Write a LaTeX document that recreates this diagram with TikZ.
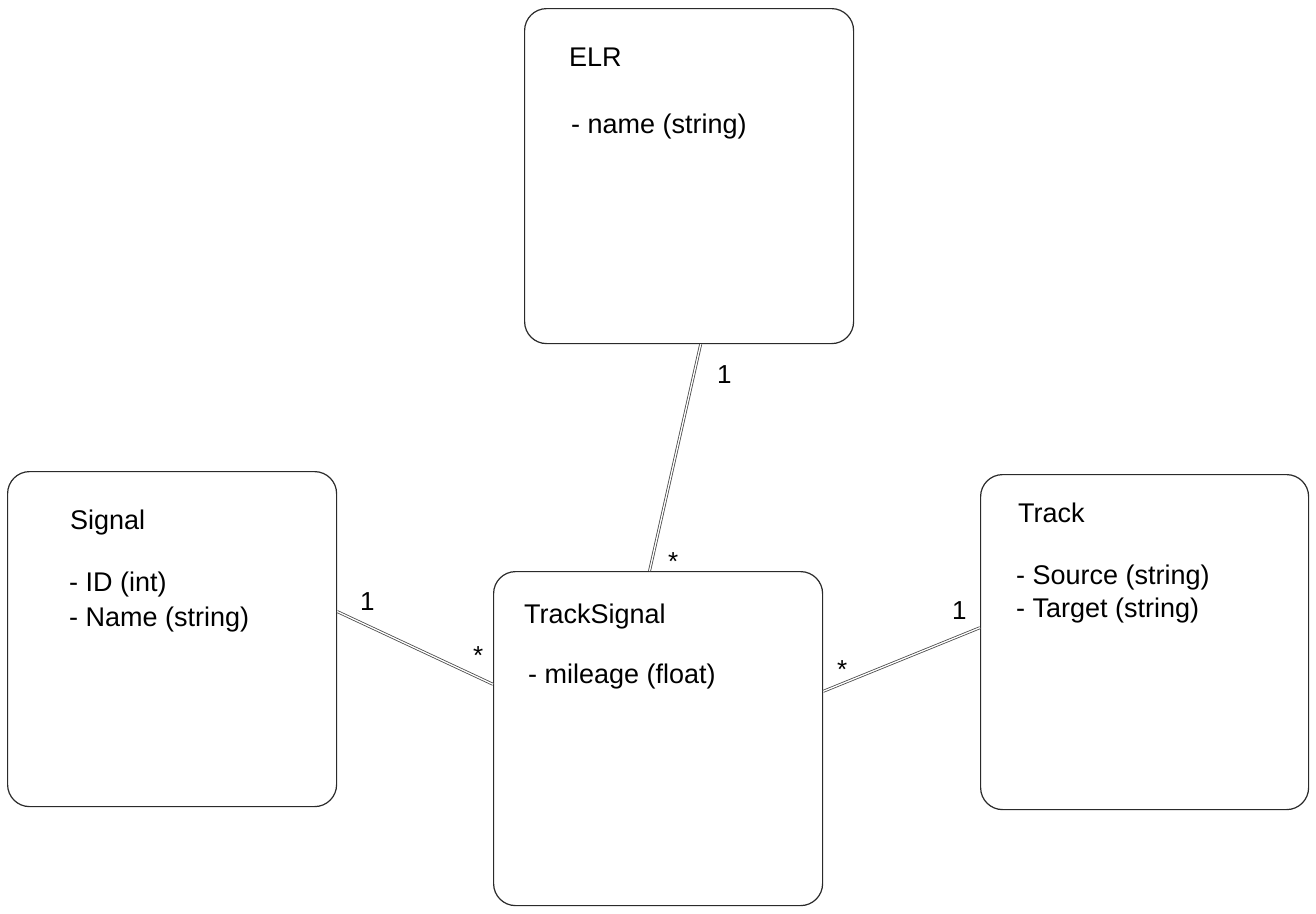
\documentclass[tikz,border=0pt]{standalone}
\usepackage{fontspec}
\setmainfont{Liberation Sans}
\usetikzlibrary{calc}
\definecolor{boxline}{HTML}{2A2A2A}
\definecolor{linkline}{HTML}{4A4A4A}
\tikzset{
  classbox/.style={draw=boxline, line width=1.2pt, rounded corners=22pt, rectangle,
    inner sep=0pt, anchor=north west, minimum width=#1},
  classbox/.default=329pt,
  txt/.style={anchor=base west, inner sep=0pt, font=\fontsize{27}{31}\selectfont, text=black},
  mult/.style={anchor=base west, inner sep=0pt, font=\fontsize{26}{30}\selectfont, text=black},
  link/.style={draw=linkline, line width=0.8pt, double=white, double distance=1.3pt}
}
\begin{document}
\begin{tikzpicture}[x=1pt,y=-1pt]
\useasboundingbox[fill=white] (0,0) rectangle (1316,913);

% class boxes
\node[classbox=329pt, minimum height=335pt] (elr) at (524,8) {};
\node[classbox=329pt, minimum height=335pt] (signal) at (7,471) {};
\node[classbox=329pt, minimum height=334pt] (ts) at (493,571) {};
\node[classbox=328pt, minimum height=335pt] (track) at (980,474) {};

% texts
\node[txt] (elrT) at (569,66) {ELR};
\node[txt] (elrA) at (571,133) {- name (string)};

\node[txt] (sigT) at (70,529) {Signal};
\node[txt] (sigA) at (69,591) {- ID (int)};
\node[txt] (sigB) at (69,626) {- Name (string)};

\node[txt] (tsT) at (524,623) {TrackSignal};
\node[txt] (tsA) at (528,683) {- mileage (float)};

\node[txt] (trT) at (1018,522) {Track};
\node[txt] (trA) at (1016,584) {- Source (string)};
\node[txt] (trB) at (1016,617) {- Target (string)};

% connector end points on the box borders
\coordinate (e1) at ($(elr.south west)!0.535!(elr.south east)$);
\coordinate (e2) at ($(ts.north west)!0.474!(ts.north east)$);
\coordinate (s1) at ($(signal.north east)!0.418!(signal.south east)$);
\coordinate (s2) at ($(ts.north west)!0.338!(ts.south west)$);
\coordinate (t1) at ($(ts.north east)!0.359!(ts.south east)$);
\coordinate (t2) at ($(track.north west)!0.457!(track.south west)$);

% connectors
\draw[link] (e1) -- (e2);
\draw[link] (s1) -- (s2);
\draw[link] (t1) -- (t2);

% multiplicities
\node[mult] (m1) at (717,383) {1};
\node[mult] (m2) at (668,570) {*};
\node[mult] (m3) at (360,610) {1};
\node[mult] (m4) at (473,664) {*};
\node[mult] (m5) at (837,678) {*};
\node[mult] (m6) at (952,619) {1};
\end{tikzpicture}
\end{document}
